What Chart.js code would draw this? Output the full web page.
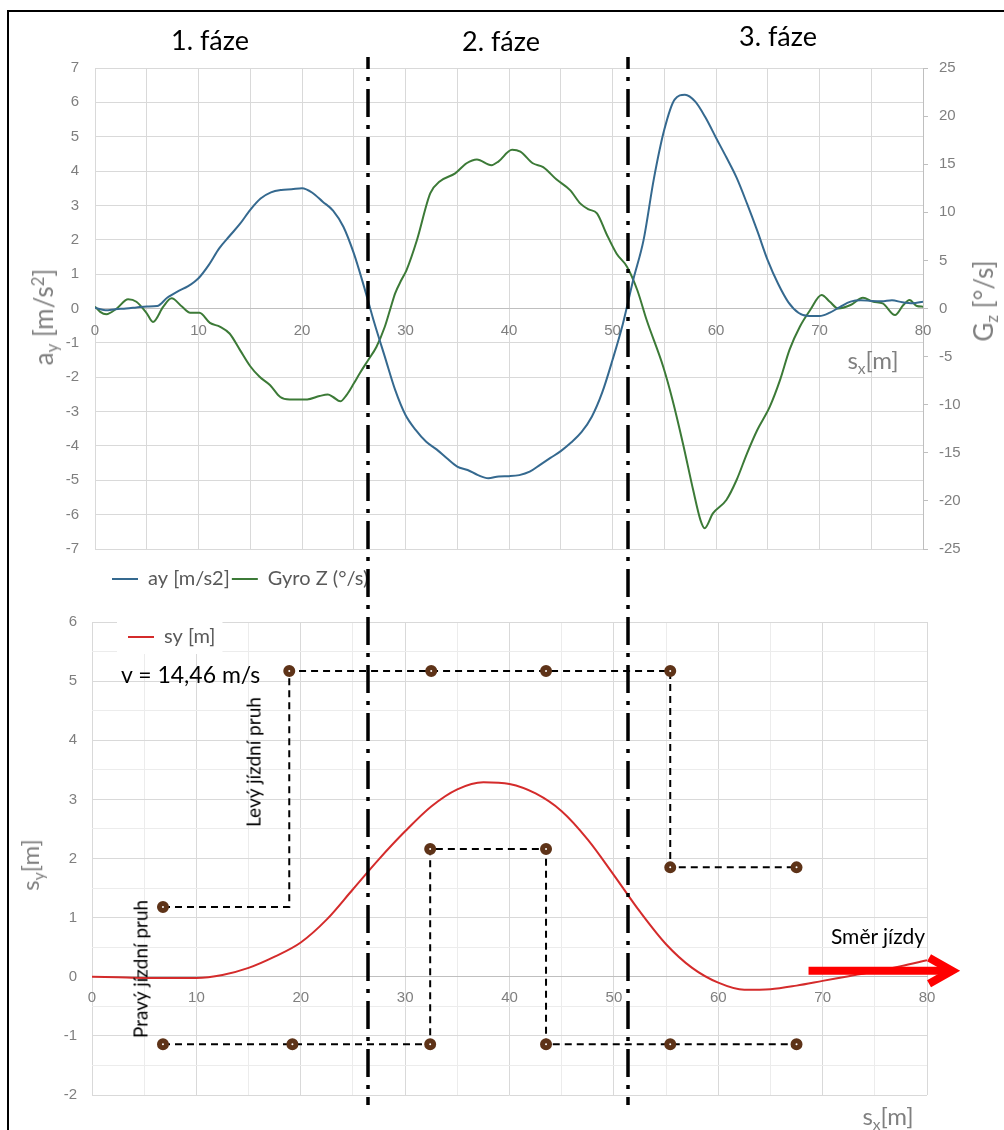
<!DOCTYPE html>
<html><head><meta charset="utf-8">
<script src="https://cdn.jsdelivr.net/npm/chart.js@4"></script>
<style>
html,body{margin:0;padding:0;background:#fff;}
#page{position:relative;width:1004px;height:1130px;overflow:hidden;background:#fff;}
canvas{position:absolute;left:0;top:0;}
.frame{position:absolute;left:7px;top:10px;width:1100px;height:1200px;border:2px solid #000;box-sizing:border-box;}
.t{position:absolute;white-space:nowrap;font-family:Lato,sans-serif;line-height:1;z-index:5;}
.c{transform:translate(-50%,-50%);}
.r{transform:translate(-50%,-50%) rotate(-90deg);}
.g{color:#808080;font-size:26px;}
.g2{color:#808080;font-size:24px;}
.k{color:#000;}
sub{font-size:0.65em;vertical-align:-0.3em;line-height:0;}
sup{font-size:0.65em;vertical-align:0.55em;line-height:0;}
</style></head>
<body>
<div id="page">
<div class="frame"></div>
<canvas id="top" width="1004" height="1130"></canvas>
<canvas id="bottom" width="1004" height="1130"></canvas>
<div class="t c k" style="left:210px;top:39px;font-size:27px;">1. fáze</div>
<div class="t c k" style="left:501px;top:40px;font-size:27px;">2. fáze</div>
<div class="t c k" style="left:778px;top:35px;font-size:27px;">3. fáze</div>
<div class="t r g" style="left:43px;top:317px;">a<sub>y</sub> [m/s<sup>2</sup>]</div>
<div class="t r g" style="left:983px;top:301px;">G<sub>z</sub> [°/s]</div>
<div class="t c g2" style="left:873px;top:360px;">s<sub>x</sub>[m]</div>
<div class="t c g2" style="left:888px;top:1116px;">s<sub>x</sub>[m]</div>
<div class="t r g2" style="left:30px;top:865px;">s<sub>y</sub>[m]</div>
<div class="t k" style="left:121px;top:663px;font-size:23px;">v = 14,46 m/s</div>
<div class="t r k" style="left:253px;top:762px;font-size:19px;">Levý jízdní pruh</div>
<div class="t r k" style="left:140px;top:969px;font-size:19px;">Pravý jízdní pruh</div>
<div class="t c k" style="left:878px;top:935px;font-size:21px;">Směr jízdy</div>
</div>
<script>
// ---------- data ----------
const ayX = [0,1,2,3,4,5,6,7,8,9,10,11,12,13,14,15,16,17,18,19,20,21,22,23,24,25,26,27,28,29,30,31,32,33,34,35,36,37,38,39,40,41,42,43,44,45,46,47,48,49,50,51,52,53,54,55,56,57,58,59,60,61,62,63,64,65,66,67,68,69,70,71,72,73,74,75,76,77,78,79,80];
const ayValues = [0.02,-0.05,-0.02,0.0,0.03,0.06,0.07,0.32,0.5,0.65,0.88,1.27,1.75,2.11,2.46,2.87,3.2,3.38,3.45,3.47,3.5,3.37,3.11,2.85,2.38,1.61,0.63,-0.43,-1.4,-2.37,-3.1,-3.54,-3.88,-4.1,-4.36,-4.6,-4.7,-4.85,-4.94,-4.89,-4.88,-4.85,-4.75,-4.55,-4.35,-4.15,-3.9,-3.6,-3.15,-2.45,-1.5,-0.45,0.83,1.99,3.78,5.2,6.08,6.22,6.02,5.55,4.97,4.4,3.8,3.05,2.25,1.4,0.72,0.18,-0.13,-0.22,-0.22,-0.12,0.05,0.2,0.24,0.22,0.21,0.24,0.18,0.15,0.2];

const gzX = [0,0.5,1.1,2.1,3.2,4.0,5.0,5.6,6.6,7.4,8.4,9.2,10.1,11.1,12.1,13.0,14.0,15.0,15.9,16.9,17.9,18.8,20.5,21.7,22.5,23.0,23.7,24.3,25.0,25.6,26.4,27.2,28.0,28.5,29.0,29.6,30.1,31.1,32.4,33.3,34.8,35.9,36.9,38.3,39.0,40.3,41.1,42.3,43.3,44.6,45.9,46.9,47.7,48.5,49.4,50.4,51.4,52.4,53.3,54.9,55.8,56.8,57.8,58.5,58.9,59.7,61.0,62.0,63.0,64.0,65.2,66.2,67.1,68.1,69.1,70.2,71.0,71.8,73.0,74.2,75.2,76.1,77.3,78.1,78.7,79.4,80.0];
const gzValues = [0.2,-0.35,-0.6,0.0,0.95,0.7,-0.5,-1.4,0.2,1.06,0.2,-0.43,-0.45,-1.5,-1.9,-2.6,-4.3,-6.0,-7.1,-7.95,-9.2,-9.45,-9.45,-9.1,-8.95,-9.2,-9.65,-9.0,-7.8,-6.7,-5.35,-3.97,-1.9,-0.16,1.58,2.96,4.0,7.1,12.0,13.2,14.05,15.1,15.5,14.9,15.3,16.5,16.3,15.1,14.7,13.4,12.3,10.9,10.3,9.9,7.8,5.7,4.35,1.9,-1.2,-6.05,-9.5,-14.0,-18.9,-22.0,-22.85,-21.3,-19.9,-17.8,-15.05,-12.6,-10.2,-7.4,-4.3,-1.9,-0.16,1.4,0.7,0.0,0.36,1.12,0.7,0.54,-0.68,0.36,0.88,0.26,0.19];

const syX = [0,2.5,5,7.5,10,12.5,15,17.5,20,22.5,25,27.5,30,32.5,35,37.5,40,42.5,45,47.5,50,52.5,55,57.5,60,62.5,65,67.5,70,72.5,75,77.5,80];
const syValues = [0.0,-0.01,-0.02,-0.02,-0.02,0.03,0.15,0.34,0.58,0.97,1.48,1.99,2.46,2.88,3.17,3.29,3.26,3.1,2.8,2.32,1.72,1.1,0.55,0.15,-0.1,-0.22,-0.21,-0.15,-0.07,0.01,0.09,0.18,0.28];

const laneLeftX = [6.8,18.9,18.9,55.4,55.4,67.5];
const laneLeftY = [1.18,1.18,5.17,5.17,1.85,1.85];
const laneRightX = [6.8,32.4,32.4,43.5,43.5,67.5];
const laneRightY = [-1.14,-1.14,2.16,2.16,-1.14,-1.14];
const markerX = [6.8,18.9,32.5,43.5,55.4,55.4,67.5,6.8,19.2,32.4,32.4,43.5,43.5,55.4,67.5];
const markerY = [1.18,5.17,5.17,5.17,5.17,1.85,1.85,-1.14,-1.14,-1.14,2.16,2.16,-1.14,-1.14,-1.14];

const phaseBoundaries = [26.4, 51.4];
const arrowX = [68.65, 82.4];
const arrowY = 0.1;

const seriesLabels = ['ay [m/s2]', 'Gyro Z (°/s)', 'sy [m]'];

// ---------- helpers ----------
const zip = (xs, ys) => xs.map((x, i) => ({x, y: ys[i]}));
const TICK = '#7f7f7f';
const tickFont = {family: 'Liberation Sans', size: 15};
Chart.defaults.font.family = 'Liberation Sans';

const legendPlace = {
  id: 'legendPlace',
  afterLayout(chart, args, opts) {
    const lg = chart.legend;
    if (!lg || opts.left == null) return;
    const w = lg.width, h = lg.height;
    lg.left = opts.left; lg.right = opts.left + w;
    lg.top = opts.top; lg.bottom = opts.top + h;
  }
};

const legendBg = {
  id: 'legendBg',
  beforeDatasetsDraw(chart) {
    const lg = chart.legend;
    if (!lg || !lg.legendHitBoxes || !lg.legendHitBoxes.length) return;
    const hb = lg.legendHitBoxes[0];
    const ctx = chart.ctx;
    const cy = hb.top + hb.height / 2;
    ctx.save();
    ctx.fillStyle = '#ffffff';
    ctx.fillRect(hb.left - 11, cy - 18, hb.width + 18, 35);
    ctx.restore();
    lg.draw();
  }
};

const directionArrow = {
  id: 'directionArrow',
  afterDatasetsDraw(chart) {
    const xs = chart.scales.x, ys = chart.scales.y, ctx = chart.ctx;
    const x0 = xs.getPixelForValue(arrowX[0]);
    const x1 = xs.getPixelForValue(arrowX[1]);
    const y = ys.getPixelForValue(arrowY);
    ctx.save();
    ctx.strokeStyle = '#ff0000';
    ctx.lineWidth = 8;
    ctx.lineCap = 'butt';
    ctx.beginPath(); ctx.moveTo(x0, y); ctx.lineTo(x1 - 4, y); ctx.stroke();
    ctx.lineJoin = 'miter';
    ctx.beginPath(); ctx.moveTo(x1 - 23, y - 13); ctx.lineTo(x1, y); ctx.lineTo(x1 - 23, y + 13); ctx.stroke();
    ctx.restore();
  }
};

let topChart = null;
const phaseLines = {
  id: 'phaseLines',
  afterDraw(chart) {
    const ctx = chart.ctx, xs = chart.scales.x;
    const yTop = topChart ? topChart.chartArea.top - 11 : 57;
    const yBot = chart.chartArea.bottom + 10;
    ctx.save();
    ctx.strokeStyle = '#000';
    ctx.lineWidth = 3.5;
    ctx.setLineDash([28, 8, 4, 8]);
    ctx.lineDashOffset = 16;
    phaseBoundaries.forEach(v => {
      const x = Math.round(xs.getPixelForValue(v));
      ctx.beginPath(); ctx.moveTo(x, yTop); ctx.lineTo(x, yBot); ctx.stroke();
    });
    ctx.restore();
  }
};

// ---------- top chart ----------
topChart = new Chart(document.getElementById('top'), {
  type: 'line',
  data: {
    datasets: [
      {label: seriesLabels[0], data: zip(ayX, ayValues), yAxisID: 'y', borderColor: '#35698f', backgroundColor: '#35698f', borderWidth: 2, pointRadius: 0, cubicInterpolationMode: 'monotone'},
      {label: seriesLabels[1], data: zip(gzX, gzValues), yAxisID: 'y1', borderColor: '#3c7a37', backgroundColor: '#3c7a37', borderWidth: 2, pointRadius: 0, cubicInterpolationMode: 'monotone'}
    ]
  },
  options: {
    responsive: false, animation: false, devicePixelRatio: 1, events: [],
    layout: {padding: {top: 68, left: 45, right: 31, bottom: 549}},
    scales: {
      x: {
        type: 'linear', min: 0, max: 80, position: {y: 0},
        ticks: {stepSize: 5, autoSkip: false, maxRotation: 0, color: TICK, font: tickFont, padding: 13, callback: v => (v % 10 === 0 ? String(v) : '')},
        grid: {color: '#d9d9d9', drawTicks: false},
        border: {display: true, color: '#bfbfbf'}
      },
      y: {
        position: 'left', min: -7, max: 7,
        ticks: {stepSize: 1, color: TICK, font: tickFont, padding: 16},
        grid: {color: '#d9d9d9', drawTicks: false},
        border: {display: false},
        afterFit: s => { s.width = 50; }
      },
      y1: {
        position: 'right', min: -25, max: 25,
        ticks: {stepSize: 5, color: TICK, font: tickFont, padding: 11},
        grid: {drawOnChartArea: false, drawTicks: true, tickLength: 5, color: '#bfbfbf'},
        border: {display: true, color: '#bfbfbf'},
        afterFit: s => { s.width = 50; }
      }
    },
    plugins: {
      tooltip: {enabled: false},
      legend: {position: 'bottom', align: 'start', labels: {usePointStyle: true, pointStyle: 'line', pointStyleWidth: 26, padding: 2, color: '#595959', font: {family: 'Lato', size: 20}}},
      legendPlace: {left: 110, top: 567}
    }
  },
  plugins: [legendPlace]
});

// ---------- bottom chart ----------
new Chart(document.getElementById('bottom'), {
  type: 'line',
  data: {
    datasets: [
      {label: seriesLabels[2], data: zip(syX, syValues), borderColor: '#d42b2b', backgroundColor: '#d42b2b', borderWidth: 2, pointRadius: 0, cubicInterpolationMode: 'monotone', order: 1},
      {label: 'Levý', data: zip(laneLeftX, laneLeftY), borderColor: '#000', borderWidth: 2, borderDash: [7, 5], pointRadius: 0, tension: 0, order: 2},
      {label: 'Pravý', data: zip(laneRightX, laneRightY), borderColor: '#000', borderWidth: 2, borderDash: [7, 5], pointRadius: 0, tension: 0, order: 2},
      {label: 'body', data: zip(markerX, markerY), showLine: false, pointRadius: 3.5, pointBorderWidth: 5, pointBackgroundColor: '#ffffff', pointBorderColor: '#5e3318', order: 0}
    ]
  },
  options: {
    responsive: false, animation: false, devicePixelRatio: 1, events: [],
    layout: {padding: {top: 622, left: 42, right: 77, bottom: 35}},
    scales: {
      x: {
        type: 'linear', min: 0, max: 80, position: {y: 0},
        ticks: {stepSize: 5, autoSkip: false, maxRotation: 0, color: TICK, font: tickFont, padding: 12, callback: v => (v % 10 === 0 ? String(v) : '')},
        grid: {color: c => (c.tick && c.tick.value % 10 === 0 ? '#d9d9d9' : '#ececec'), drawTicks: false},
        border: {display: true, color: '#bfbfbf'}
      },
      y: {
        position: 'left', min: -2, max: 6,
        ticks: {stepSize: 0.5, autoSkip: false, color: TICK, font: tickFont, padding: 15, callback: v => (Number.isInteger(v) ? String(v) : '')},
        grid: {color: c => (c.tick && Number.isInteger(c.tick.value) ? '#d9d9d9' : '#ececec'), drawTicks: false},
        border: {display: false},
        afterFit: s => { s.width = 50; }
      }
    },
    plugins: {
      tooltip: {enabled: false},
      legend: {position: 'chartArea', align: 'start', labels: {usePointStyle: true, pointStyle: 'line', pointStyleWidth: 26, padding: 6, color: '#595959', font: {family: 'Lato', size: 20}, filter: item => item.datasetIndex === 0}},
      legendPlace: {left: 122, top: 621}
    }
  },
  plugins: [legendPlace, legendBg, directionArrow, phaseLines]
});
</script>
</body></html>
